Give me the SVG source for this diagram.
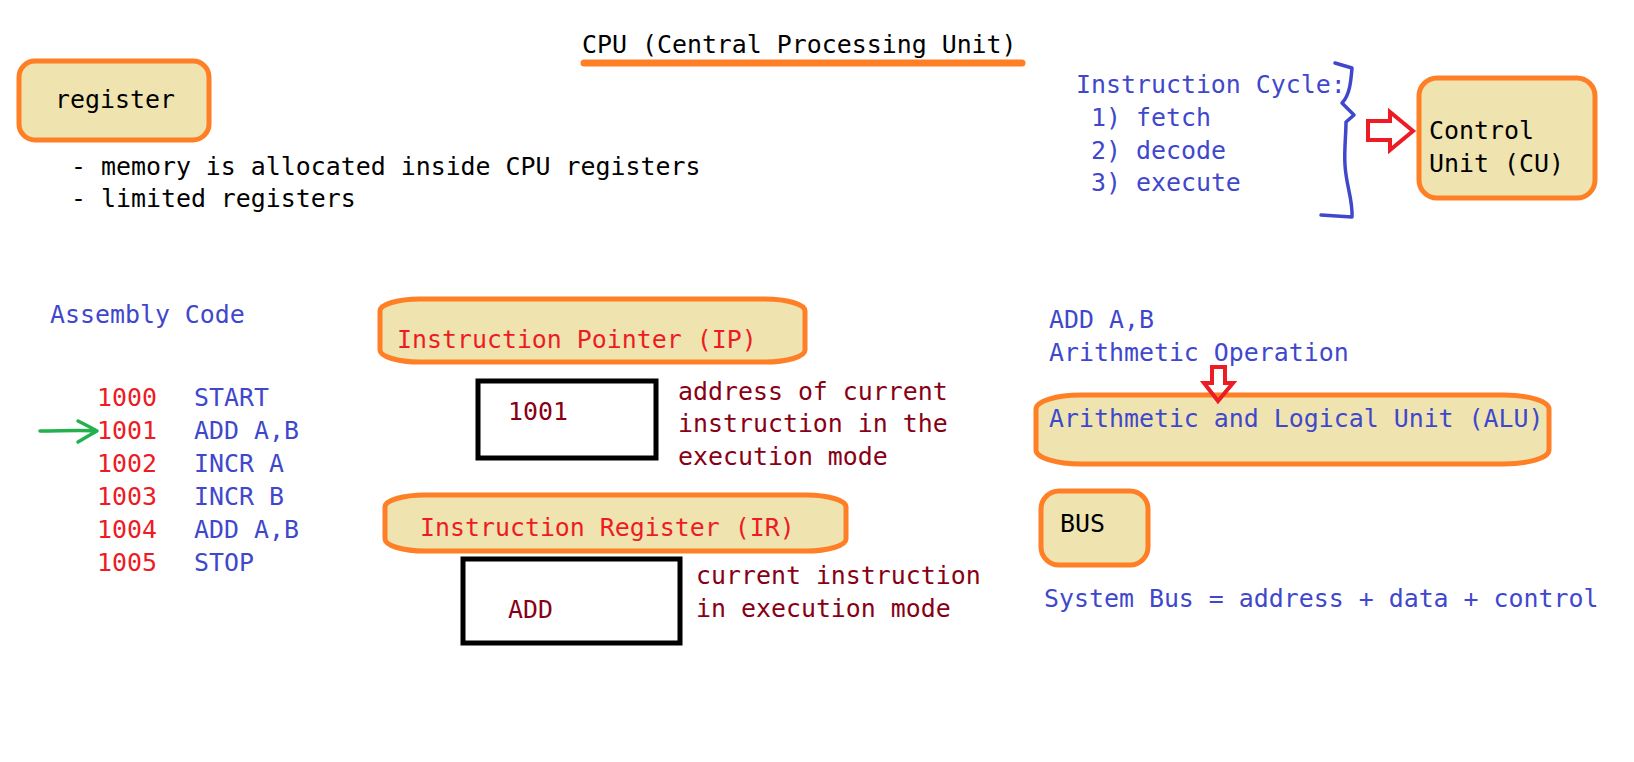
<svg xmlns="http://www.w3.org/2000/svg" width="1634" height="762" viewBox="0 0 1634 762">
<style>
text{font-family:"DejaVu Sans Mono","Liberation Mono",monospace;font-size:24.9px}
.k{fill:#000}
.b{fill:#3F48CC}
.r{fill:#ED1C24}
.d{fill:#880015}
.box{fill:#EFE4B0;stroke:#FF7F27;stroke-width:5}
.blk{fill:#fff;stroke:#000;stroke-width:5}
.ra{fill:none;stroke:#ED1C24;stroke-width:4;stroke-linejoin:miter}
</style>
<rect width="1634" height="762" fill="#fff"/>
<g id="title">
<text class="k" x="582" y="53">CPU (Central Processing Unit)</text>
<line x1="584" y1="63" x2="1022" y2="63" stroke="#FF7F27" stroke-width="7" stroke-linecap="round"/>
</g>
<g id="register">
<rect class="box" x="19" y="61" width="190" height="79" rx="16"/>
<text class="k" x="55" y="108">register</text>
</g>
<g id="register-notes">
<text class="k" x="71" y="175">- memory is allocated inside CPU registers</text>
<text class="k" x="71" y="207">- limited registers</text>
</g>
<g id="instruction-cycle">
<text class="b" x="1076" y="93">Instruction Cycle:</text>
<text class="b" x="1091" y="126">1) fetch</text>
<text class="b" x="1091" y="159">2) decode</text>
<text class="b" x="1091" y="191">3) execute</text>
</g>
<g id="control-unit">
<rect class="box" x="1419" y="78" width="176" height="120" rx="18"/>
<text class="k" x="1429" y="139">Control</text>
<text class="k" x="1429" y="172">Unit (CU)</text>
</g>
<g id="assembly-code">
<text class="b" x="50" y="323">Assembly Code</text>
<text class="r" x="97" y="406">1000</text><text class="b" x="194" y="406">START</text>
<text class="r" x="97" y="439">1001</text><text class="b" x="194" y="439">ADD A,B</text>
<text class="r" x="97" y="472">1002</text><text class="b" x="194" y="472">INCR A</text>
<text class="r" x="97" y="505">1003</text><text class="b" x="194" y="505">INCR B</text>
<text class="r" x="97" y="538">1004</text><text class="b" x="194" y="538">ADD A,B</text>
<text class="r" x="97" y="571">1005</text><text class="b" x="194" y="571">STOP</text>
</g>
<g id="instruction-pointer">
<rect class="box" x="380" y="299" width="425" height="63" rx="40" ry="12"/>
<text class="r" x="397" y="348">Instruction Pointer (IP)</text>
</g>
<g id="ip-value">
<rect class="blk" x="478" y="381" width="178" height="77"/>
<text class="d" x="508" y="420">1001</text>
</g>
<g id="ip-note">
<text class="d" x="678" y="400">address of current</text>
<text class="d" x="678" y="432">instruction in the</text>
<text class="d" x="678" y="465">execution mode</text>
</g>
<g id="instruction-register">
<rect class="box" x="385" y="495" width="461" height="56" rx="40" ry="12"/>
<text class="r" x="420" y="536">Instruction Register (IR)</text>
</g>
<g id="ir-value">
<rect class="blk" x="463" y="559" width="217" height="84"/>
<text class="d" x="508" y="618">ADD</text>
</g>
<g id="ir-note">
<text class="d" x="696" y="584">current instruction</text>
<text class="d" x="696" y="617">in execution mode</text>
</g>
<g id="alu-note">
<text class="b" x="1049" y="328">ADD A,B</text>
<text class="b" x="1049" y="361">Arithmetic Operation</text>
</g>
<g id="alu">
<rect class="box" x="1036" y="395" width="513" height="69" rx="45" ry="14"/>
<text class="b" x="1049" y="427">Arithmetic and Logical Unit (ALU)</text>
</g>
<g id="bus">
<rect class="box" x="1041" y="491" width="107" height="74" rx="18"/>
<text class="k" x="1060" y="532">BUS</text>
</g>
<g id="system-bus">
<text class="b" x="1044" y="607">System Bus = address + data + control</text>
</g>
<g id="connectors">
<path d="M1321,215 L1352,217 C1353,200 1346,185 1345,165 C1344,150 1346,135 1346,122 L1354,115 L1342,103 C1350,95 1351,80 1352,68 L1335,63" fill="none" stroke="#3F48CC" stroke-width="3.5" stroke-linecap="round" stroke-linejoin="round"/>
<polygon class="ra" points="1368,121 1390,121 1390,112 1413,131 1390,150 1390,140 1368,140"/>
<polygon class="ra" points="1212,367 1225,367 1225,383 1233,383 1218,401 1204,383 1212,383"/>
<path d="M40,431 C60,431 80,430 97,431 M78,421 Q90,427 97,431 Q88,436 78,442" fill="none" stroke="#22B14C" stroke-width="3.5" stroke-linecap="round" stroke-linejoin="round"/>
</g>
</svg>
